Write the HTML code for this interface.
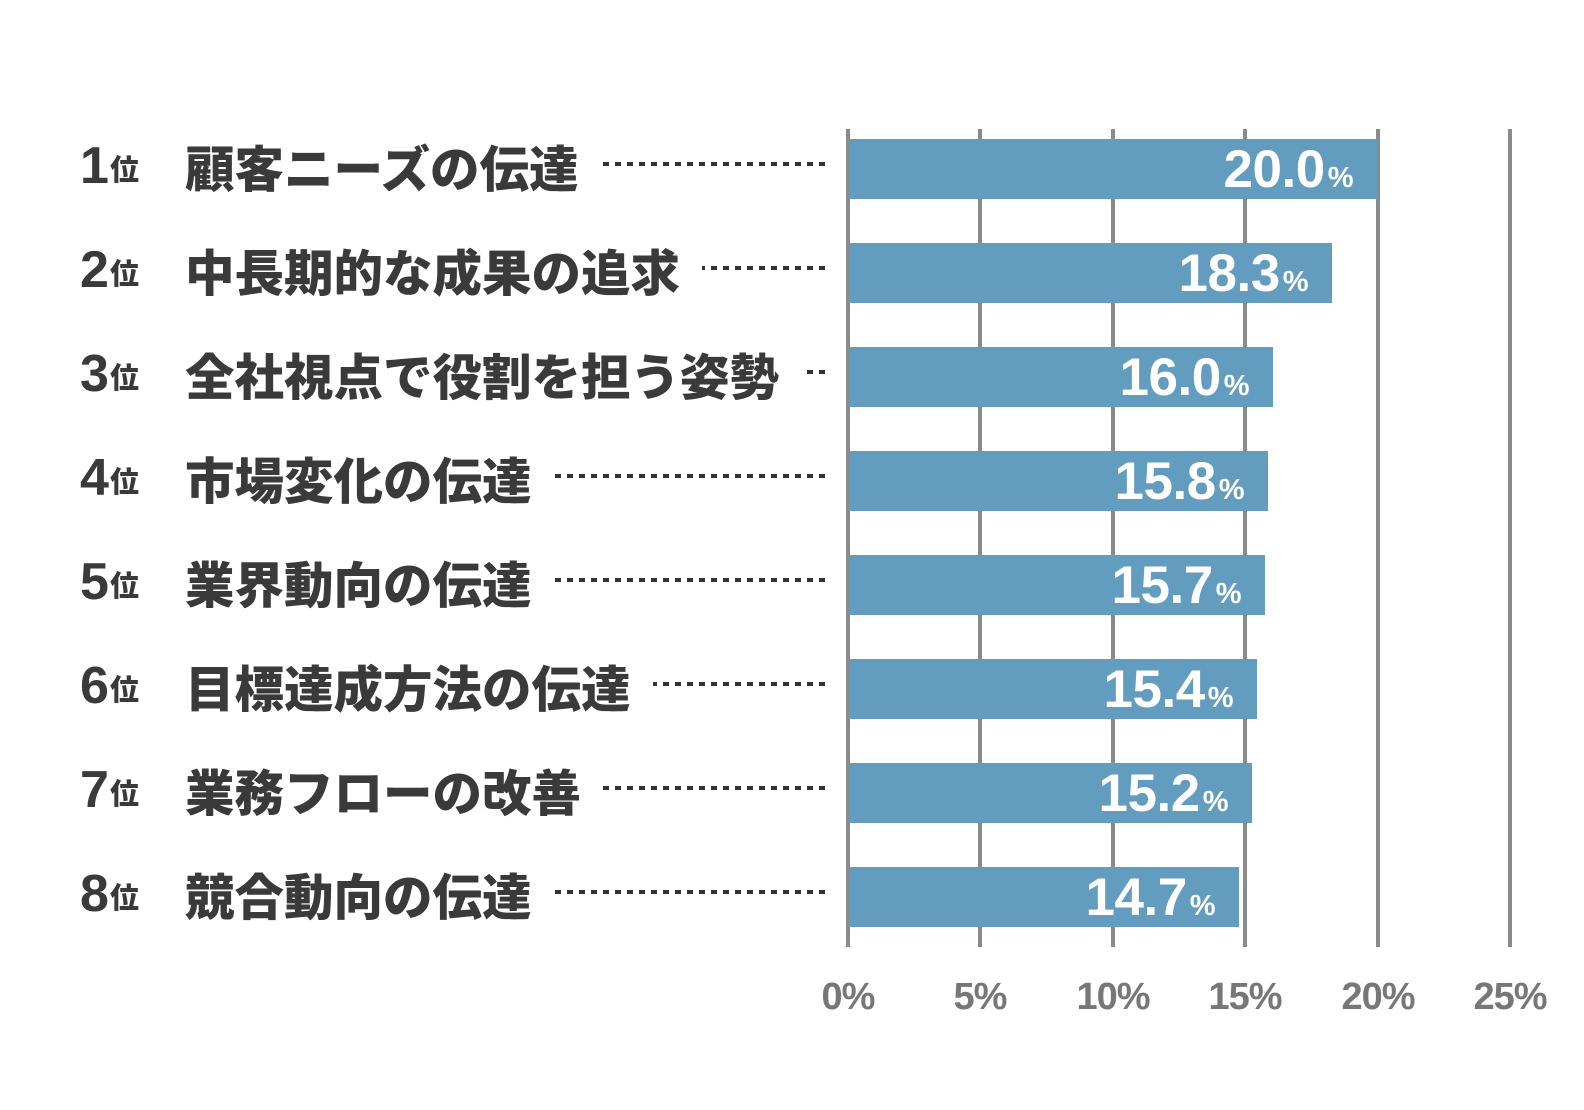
<!DOCTYPE html>
<html><head><meta charset="utf-8"><style>
body{margin:0;width:1584px;height:1110px;background:#fff;position:relative;overflow:hidden;font-family:"Liberation Sans","Noto Sans CJK JP",sans-serif}
.g{position:absolute;top:129px;height:818px;width:4px;background:#8a8a8a}
.bar{position:absolute;left:849px;height:60px;background:#629cbf}
.val{position:absolute;right:24px;top:4px;color:#fff;font-weight:bold;font-size:53px;line-height:54px;white-space:nowrap;letter-spacing:-0.5px}
.val small{font-size:29px;margin-left:3px}
.row{position:absolute;left:80px;width:745px;height:60px;display:flex;align-items:center;color:#3a3a3a}
.rk{font-weight:bold;font-size:52px;width:30px;text-align:left;letter-spacing:-1px}
.i{font-family:"Noto Sans CJK JP",sans-serif;font-weight:900;font-size:29px;width:75px;padding-top:4px}
.t{font-family:"Noto Sans CJK JP",sans-serif;font-weight:900;font-size:49.5px;letter-spacing:0px;white-space:nowrap}
.d{flex:1;height:4px;margin-left:22px;margin-top:-4px;background:repeating-linear-gradient(to left,#333 0 6px,transparent 6px 12px)}
.ax{position:absolute;top:976px;width:120px;text-align:center;color:#777;font-weight:bold;font-size:38px;letter-spacing:-1px}
</style></head><body>
<div class="g" style="left:846px"></div>
<div class="g" style="left:978px"></div>
<div class="g" style="left:1111px"></div>
<div class="g" style="left:1243px"></div>
<div class="g" style="left:1376px"></div>
<div class="g" style="left:1508px"></div>

<div class="bar" style="top:139px;width:528px"><div class="val">20.0<small>%</small></div></div>
<div class="bar" style="top:243px;width:483px"><div class="val">18.3<small>%</small></div></div>
<div class="bar" style="top:347px;width:424px"><div class="val">16.0<small>%</small></div></div>
<div class="bar" style="top:451px;width:419px"><div class="val">15.8<small>%</small></div></div>
<div class="bar" style="top:555px;width:416px"><div class="val">15.7<small>%</small></div></div>
<div class="bar" style="top:659px;width:408px"><div class="val">15.4<small>%</small></div></div>
<div class="bar" style="top:763px;width:403px"><div class="val">15.2<small>%</small></div></div>
<div class="bar" style="top:867px;width:390px"><div class="val">14.7<small>%</small></div></div>

<div class="row" style="top:136px"><span class="rk">1</span><span class="i">位</span><span class="t">顧客ニーズの伝達</span><span class="d"></span></div>
<div class="row" style="top:240px"><span class="rk">2</span><span class="i">位</span><span class="t">中長期的な成果の追求</span><span class="d"></span></div>
<div class="row" style="top:344px"><span class="rk">3</span><span class="i">位</span><span class="t">全社視点で役割を担う姿勢</span><span class="d"></span></div>
<div class="row" style="top:448px"><span class="rk">4</span><span class="i">位</span><span class="t">市場変化の伝達</span><span class="d"></span></div>
<div class="row" style="top:552px"><span class="rk">5</span><span class="i">位</span><span class="t">業界動向の伝達</span><span class="d"></span></div>
<div class="row" style="top:656px"><span class="rk">6</span><span class="i">位</span><span class="t">目標達成方法の伝達</span><span class="d"></span></div>
<div class="row" style="top:760px"><span class="rk">7</span><span class="i">位</span><span class="t">業務フローの改善</span><span class="d"></span></div>
<div class="row" style="top:864px"><span class="rk">8</span><span class="i">位</span><span class="t">競合動向の伝達</span><span class="d"></span></div>

<div class="ax" style="left:788px">0%</div>
<div class="ax" style="left:920px">5%</div>
<div class="ax" style="left:1053px">10%</div>
<div class="ax" style="left:1185px">15%</div>
<div class="ax" style="left:1318px">20%</div>
<div class="ax" style="left:1450px">25%</div>
</body></html>
